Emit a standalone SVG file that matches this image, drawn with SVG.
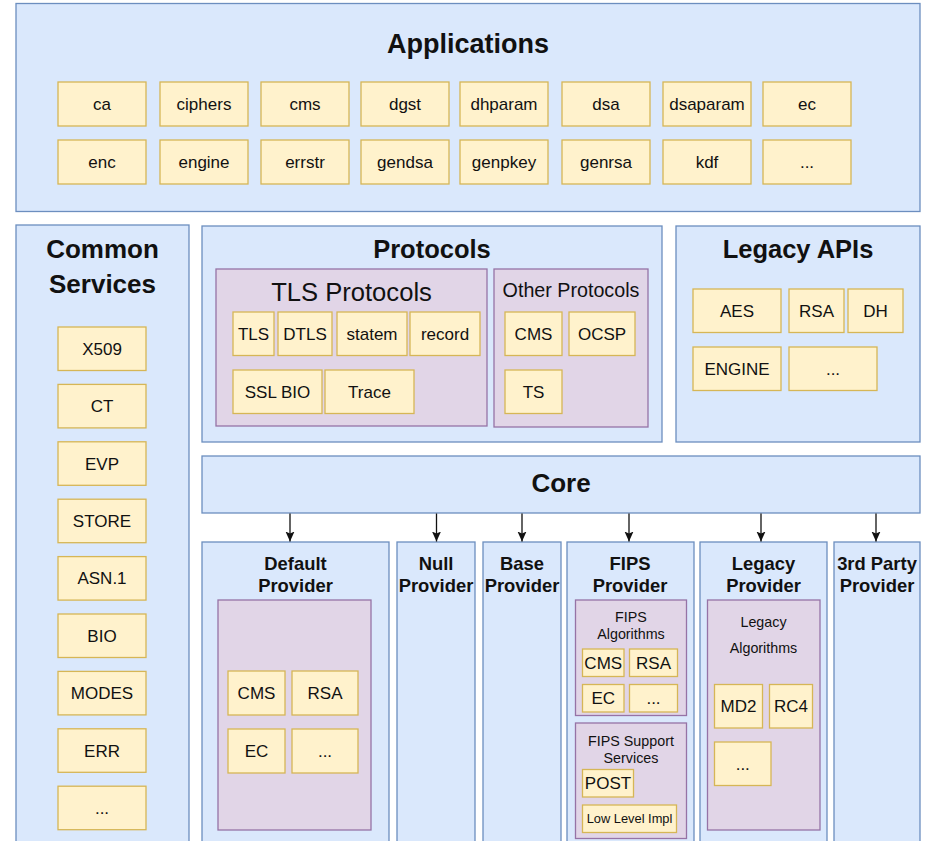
<svg xmlns="http://www.w3.org/2000/svg" width="926" height="841" viewBox="0 0 926 841">
<style>
.blue{fill:#dae8fc;stroke:#6c8ebf;stroke-width:1.3}
.purple{fill:#e1d5e7;stroke:#9673a6;stroke-width:1.3}
.item{fill:#fff2cc;stroke:#d6b656;stroke-width:1.3}
text{font-family:"Liberation Sans",Arial,Helvetica,sans-serif;fill:#111;text-anchor:middle}
.t{font-size:17px}
.big{font-weight:bold;font-size:26px}
.prov{font-weight:bold;font-size:18.4px}
.small{font-size:14.3px}
.conn{stroke:#111;stroke-width:1.3;fill:none}
</style>
<defs>
<marker id="arr" markerUnits="userSpaceOnUse" markerWidth="10" markerHeight="10" viewBox="0 0 10 10" refX="10" refY="5" orient="auto">
<path d="M0,0.5 L10,5 L0,9.5 L2,5 z" fill="#111"/>
</marker>
</defs>
<rect width="926" height="841" fill="#ffffff"/>

<g id="applications">
<rect class="blue" x="16" y="3.5" width="904" height="208"/>
<text class="big" x="468" y="52.5" style="font-size:27px">Applications</text>
<rect class="item" x="58" y="82" width="88" height="44"/><text class="t" x="102" y="110">ca</text>
<rect class="item" x="160" y="82" width="88" height="44"/><text class="t" x="204" y="110">ciphers</text>
<rect class="item" x="261" y="82" width="88" height="44"/><text class="t" x="305" y="110">cms</text>
<rect class="item" x="361" y="82" width="88" height="44"/><text class="t" x="405" y="110">dgst</text>
<rect class="item" x="460" y="82" width="88" height="44"/><text class="t" x="504" y="110">dhparam</text>
<rect class="item" x="562" y="82" width="88" height="44"/><text class="t" x="606" y="110">dsa</text>
<rect class="item" x="663" y="82" width="88" height="44"/><text class="t" x="707" y="110">dsaparam</text>
<rect class="item" x="763" y="82" width="88" height="44"/><text class="t" x="807" y="110">ec</text>
<rect class="item" x="58" y="140" width="88" height="44"/><text class="t" x="102" y="168">enc</text>
<rect class="item" x="160" y="140" width="88" height="44"/><text class="t" x="204" y="168">engine</text>
<rect class="item" x="261" y="140" width="88" height="44"/><text class="t" x="305" y="168">errstr</text>
<rect class="item" x="361" y="140" width="88" height="44"/><text class="t" x="405" y="168">gendsa</text>
<rect class="item" x="460" y="140" width="88" height="44"/><text class="t" x="504" y="168">genpkey</text>
<rect class="item" x="562" y="140" width="88" height="44"/><text class="t" x="606" y="168">genrsa</text>
<rect class="item" x="663" y="140" width="88" height="44"/><text class="t" x="707" y="168">kdf</text>
<rect class="item" x="763" y="140" width="88" height="44"/><text class="t" x="807" y="168">...</text>
</g>

<g id="common-services">
<rect class="blue" x="16" y="225" width="173" height="640"/>
<text class="big" x="102.5" y="258">Common</text>
<text class="big" x="102.5" y="292.5">Services</text>
<rect class="item" x="58" y="327" width="88" height="43.5"/><text class="t" x="102" y="354.7">X509</text>
<rect class="item" x="58" y="384.4" width="88" height="43.5"/><text class="t" x="102" y="412.1">CT</text>
<rect class="item" x="58" y="441.8" width="88" height="43.5"/><text class="t" x="102" y="469.5">EVP</text>
<rect class="item" x="58" y="499.2" width="88" height="43.5"/><text class="t" x="102" y="526.9">STORE</text>
<rect class="item" x="58" y="556.6" width="88" height="43.5"/><text class="t" x="102" y="584.3">ASN.1</text>
<rect class="item" x="58" y="614" width="88" height="43.5"/><text class="t" x="102" y="641.7">BIO</text>
<rect class="item" x="58" y="671.4" width="88" height="43.5"/><text class="t" x="102" y="699.1">MODES</text>
<rect class="item" x="58" y="728.8" width="88" height="43.5"/><text class="t" x="102" y="756.5">ERR</text>
<rect class="item" x="58" y="786.2" width="88" height="43.5"/><text class="t" x="102" y="813.9">...</text>
</g>

<g id="protocols">
<rect class="blue" x="202" y="226" width="460" height="216"/>
<text class="big" x="432" y="258" style="font-size:25.5px">Protocols</text>
</g>
<g id="tls-protocols">
<rect class="purple" x="216" y="269" width="271" height="157"/>
<text x="351.5" y="301" style="font-size:25.6px">TLS Protocols</text>
<rect class="item" x="233" y="312" width="41" height="43.5"/><text class="t" x="253.5" y="339.75">TLS</text>
<rect class="item" x="278" y="312" width="54" height="43.5"/><text class="t" x="305" y="339.75">DTLS</text>
<rect class="item" x="337" y="312" width="70" height="43.5"/><text class="t" x="372" y="339.75">statem</text>
<rect class="item" x="410" y="312" width="70" height="43.5"/><text class="t" x="445" y="339.75">record</text>
<rect class="item" x="233" y="370" width="89" height="43.5"/><text class="t" x="277.5" y="397.75">SSL BIO</text>
<rect class="item" x="325" y="370" width="89" height="43.5"/><text class="t" x="369.5" y="397.75">Trace</text>
</g>
<g id="other-protocols">
<rect class="purple" x="494" y="269" width="154" height="158"/>
<text x="571" y="297" style="font-size:19.7px">Other Protocols</text>
<rect class="item" x="505" y="312" width="57" height="43.5"/><text class="t" x="533.5" y="339.75">CMS</text>
<rect class="item" x="569" y="312" width="66" height="43.5"/><text class="t" x="602" y="339.75">OCSP</text>
<rect class="item" x="505" y="370" width="57" height="43.5"/><text class="t" x="533.5" y="397.75">TS</text>
</g>

<g id="legacy-apis">
<rect class="blue" x="676" y="226" width="244" height="216"/>
<text class="big" x="798" y="258" style="font-size:25.5px">Legacy APIs</text>
<rect class="item" x="693" y="289" width="88" height="43.5"/><text class="t" x="737" y="316.75">AES</text>
<rect class="item" x="789" y="289" width="55" height="43.5"/><text class="t" x="816.5" y="316.75">RSA</text>
<rect class="item" x="848" y="289" width="55" height="43.5"/><text class="t" x="875.5" y="316.75">DH</text>
<rect class="item" x="693" y="347" width="88" height="43.5"/><text class="t" x="737" y="374.75">ENGINE</text>
<rect class="item" x="789" y="347" width="88" height="43.5"/><text class="t" x="833" y="374.75">...</text>
</g>

<g id="core">
<rect class="blue" x="202" y="456" width="718" height="57"/>
<text class="big" x="561" y="492">Core</text>
</g>

<g id="default-provider">
<rect class="blue" x="202" y="542" width="187" height="320"/>
<text class="prov" x="295.5" y="569.5">Default</text>
<text class="prov" x="295.5" y="591.5">Provider</text>
<rect class="purple" x="218" y="600" width="153" height="230"/>
<rect class="item" x="228" y="671" width="57" height="44"/><text class="t" x="256.5" y="699">CMS</text>
<rect class="item" x="292" y="671" width="66" height="44"/><text class="t" x="325" y="699">RSA</text>
<rect class="item" x="228" y="729" width="57" height="44"/><text class="t" x="256.5" y="757">EC</text>
<rect class="item" x="292" y="729" width="66" height="44"/><text class="t" x="325" y="757">...</text>
</g>

<g id="null-provider">
<rect class="blue" x="397" y="542" width="78" height="320"/>
<text class="prov" x="436" y="569.5">Null</text>
<text class="prov" x="436" y="591.5">Provider</text>
</g>

<g id="base-provider">
<rect class="blue" x="483" y="542" width="78" height="320"/>
<text class="prov" x="522" y="569.5">Base</text>
<text class="prov" x="522" y="591.5">Provider</text>
</g>

<g id="fips-provider">
<rect class="blue" x="567" y="542" width="127" height="320"/>
<text class="prov" x="630" y="569.5">FIPS</text>
<text class="prov" x="630" y="591.5">Provider</text>
<rect class="purple" x="575.5" y="600" width="111" height="115.5"/>
<text class="small" x="631" y="622">FIPS</text>
<text class="small" x="631" y="639">Algorithms</text>
<rect class="item" x="582.5" y="649" width="41.5" height="27.5"/><text class="t" x="603.25" y="668.75">CMS</text>
<rect class="item" x="629.5" y="649" width="48" height="27.5"/><text class="t" x="653.5" y="668.75">RSA</text>
<rect class="item" x="582.5" y="684.5" width="41.5" height="27.5"/><text class="t" x="603.25" y="704.25">EC</text>
<rect class="item" x="629.5" y="684.5" width="48" height="27.5"/><text class="t" x="653.5" y="704.25">...</text>
<rect class="purple" x="575.5" y="723" width="111" height="115.5"/>
<text class="small" x="631" y="745.5">FIPS Support</text>
<text class="small" x="631" y="763">Services</text>
<rect class="item" x="582.5" y="769.5" width="51" height="27.5"/><text class="t" x="608" y="789.25">POST</text>
<rect class="item" x="582.5" y="805" width="94" height="27.5"/><text x="629.5" y="823.3" style="font-size:12.85px">Low Level Impl</text>
</g>

<g id="legacy-provider">
<rect class="blue" x="700" y="542" width="127" height="320"/>
<text class="prov" x="763.5" y="569.5">Legacy</text>
<text class="prov" x="763.5" y="591.5">Provider</text>
<rect class="purple" x="707.5" y="600" width="112.5" height="230"/>
<text class="small" x="763.5" y="627">Legacy</text>
<text class="small" x="763.5" y="653">Algorithms</text>
<rect class="item" x="714.5" y="684.5" width="48" height="43.5"/><text class="t" x="738.5" y="712.25">MD2</text>
<rect class="item" x="769.5" y="684.5" width="43" height="43.5"/><text class="t" x="791" y="712.25">RC4</text>
<rect class="item" x="714.5" y="742" width="56.5" height="43.5"/><text class="t" x="742.75" y="769.75">...</text>
</g>

<g id="third-party-provider">
<rect class="blue" x="834" y="542" width="86" height="320"/>
<text class="prov" x="877" y="569.5">3rd Party</text>
<text class="prov" x="877" y="591.5">Provider</text>
</g>

<g id="connectors">
<line class="conn" x1="290" y1="513.5" x2="290" y2="541.5" marker-end="url(#arr)"/>
<line class="conn" x1="436.5" y1="513.5" x2="436.5" y2="541.5" marker-end="url(#arr)"/>
<line class="conn" x1="522" y1="513.5" x2="522" y2="541.5" marker-end="url(#arr)"/>
<line class="conn" x1="629" y1="513.5" x2="629" y2="541.5" marker-end="url(#arr)"/>
<line class="conn" x1="761" y1="513.5" x2="761" y2="541.5" marker-end="url(#arr)"/>
<line class="conn" x1="876" y1="513.5" x2="876" y2="541.5" marker-end="url(#arr)"/>
</g>
</svg>
